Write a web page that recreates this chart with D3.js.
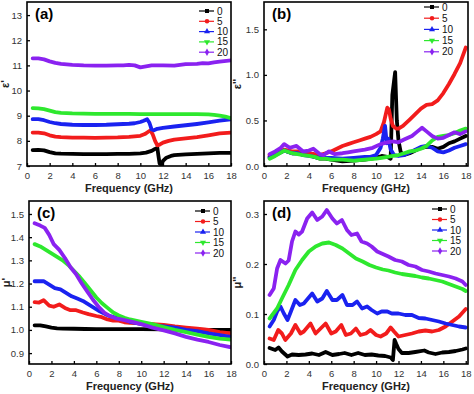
<html lang="en">
<head>
    <meta charset="utf-8">
    <title>Permittivity and permeability spectra</title>
    <script src="https://cdn.jsdelivr.net/npm/d3@7/dist/d3.min.js"></script>
    <style>
        body { margin: 0; background: #fff; }
        text { font-family: "Liberation Sans", Arial, sans-serif; }
    </style>
</head>
<body></body>
<script type="text/javascript">

    //****************************************************************************************************************************//
    //	Data (frequency in GHz, value)

    const loadings = ["0", "5", "10", "15", "20"];
    const seriesColors = ["#000000", "#f21c1c", "#1a22f0", "#2ee82e", "#8a22f0"];
    const freqTicks = [0, 2, 4, 6, 8, 10, 12, 14, 16, 18];

    // (a) real permittivity
    const epsRe0 = [[0.5,7.63],[1,7.64],[1.5,7.62],[2,7.55],[2.5,7.5],[3,7.49],[4,7.48],[5,7.47],[6,7.47],[7,7.47],[8,7.48],[9,7.48],[10,7.5],[10.5,7.53],[11,7.6],[11.3,7.68],[11.5,7.72],[11.6,7.4],[11.7,7.1],[11.85,7.05],[12,7.2],[12.3,7.33],[12.7,7.4],[13,7.43],[14,7.46],[15,7.48],[16,7.5],[17,7.52],[18,7.52]];
    const epsRe5 = [[0.5,8.33],[1,8.33],[1.5,8.3],[2,8.22],[2.5,8.17],[3,8.15],[4,8.13],[5,8.13],[6,8.12],[7,8.13],[8,8.14],[9,8.16],[10,8.2],[10.4,8.27],[10.7,8.36],[10.9,8.42],[11.1,8.25],[11.3,8.0],[11.5,7.82],[11.7,7.85],[12,7.93],[12.5,8.0],[13,8.05],[14,8.1],[15,8.15],[16,8.22],[17,8.3],[18,8.33]];
    const epsRe10 = [[0.5,8.86],[1,8.86],[1.5,8.82],[2,8.75],[2.5,8.7],[3,8.67],[4,8.64],[5,8.63],[6,8.63],[7,8.64],[8,8.66],[9,8.68],[9.5,8.7],[10,8.75],[10.3,8.8],[10.6,8.86],[10.8,8.72],[11,8.45],[11.2,8.42],[11.5,8.48],[12,8.52],[13,8.57],[14,8.62],[15,8.67],[16,8.73],[17,8.8],[18,8.86]];
    const epsRe15 = [[0.5,9.3],[1,9.29],[1.5,9.26],[2,9.2],[2.5,9.14],[3,9.11],[4,9.09],[5,9.08],[6,9.07],[7,9.07],[8,9.07],[9,9.07],[10,9.06],[11,9.06],[12,9.06],[13,9.06],[14,9.06],[15,9.06],[16,9.05],[16.5,9.03],[17,9.0],[17.5,8.96],[18,8.9]];
    const epsRe20 = [[0.5,11.28],[1,11.28],[1.5,11.24],[2,11.16],[2.5,11.1],[3,11.06],[3.5,11.04],[4,11.02],[5,11.0],[6,10.99],[7,10.99],[8,11.0],[8.5,11.0],[9,11.02],[9.5,11.0],[10,10.92],[10.5,10.96],[11,11.0],[12,11.0],[13,10.99],[13.5,11.02],[14,11.05],[15,11.06],[15.5,11.09],[16,11.08],[16.5,11.12],[17,11.15],[18,11.2]];

    // (b) imaginary permittivity
    const epsIm0 = [[0.5,0.1],[1,0.12],[1.8,0.17],[2.5,0.14],[3,0.14],[3.5,0.12],[4,0.12],[4.5,0.1],[5,0.08],[5.5,0.08],[6,0.07],[7,0.05],[8,0.06],[9,0.07],[10,0.09],[10.5,0.11],[11,0.1],[11.3,0.08],[11.45,0.78],[11.6,0.93],[11.7,1.03],[11.85,0.5],[12,0.28],[12.2,0.15],[12.5,0.12],[13,0.14],[13.5,0.17],[14,0.2],[14.5,0.21],[15,0.21],[15.5,0.19],[16,0.21],[16.5,0.25],[17,0.27],[17.5,0.3],[18,0.33]];
    const epsIm5 = [[0.5,0.12],[1,0.14],[1.8,0.18],[2.5,0.16],[3,0.16],[3.5,0.14],[4,0.14],[4.5,0.13],[5,0.12],[5.5,0.14],[6,0.16],[6.5,0.19],[7,0.22],[7.5,0.24],[8,0.26],[8.5,0.28],[9,0.3],[9.5,0.32],[10,0.35],[10.4,0.38],[10.7,0.48],[11.0,0.64],[11.15,0.62],[11.3,0.52],[11.5,0.44],[11.8,0.41],[12,0.41],[12.4,0.44],[13,0.51],[13.5,0.57],[14,0.63],[14.5,0.67],[15,0.68],[15.5,0.72],[16,0.8],[16.5,0.9],[17,1.01],[17.5,1.13],[18,1.3]];
    const epsIm10 = [[0.5,0.09],[1,0.12],[1.8,0.17],[2.5,0.14],[3,0.14],[3.5,0.12],[4,0.11],[4.5,0.1],[5,0.09],[5.5,0.09],[6,0.09],[7,0.08],[8,0.09],[9,0.1],[9.5,0.1],[10,0.12],[10.4,0.2],[10.6,0.3],[10.8,0.44],[10.95,0.25],[11.1,0.3],[11.3,0.18],[11.6,0.12],[12,0.11],[12.5,0.12],[13,0.15],[13.5,0.18],[14,0.21],[14.5,0.22],[15,0.2],[15.5,0.16],[16,0.15],[16.5,0.17],[17,0.2],[17.5,0.22],[18,0.24]];
    const epsIm15 = [[0.5,0.08],[1,0.11],[1.8,0.17],[2.5,0.14],[3,0.13],[3.5,0.12],[4,0.11],[4.5,0.1],[5,0.08],[5.5,0.08],[6,0.07],[7,0.07],[8,0.06],[9,0.07],[10,0.08],[10.5,0.09],[11,0.1],[11.5,0.11],[12,0.12],[12.5,0.14],[13,0.16],[13.5,0.17],[14,0.19],[14.5,0.22],[15,0.28],[15.5,0.32],[16,0.33],[16.5,0.34],[17,0.36],[17.5,0.39],[18,0.41]];
    const epsIm20 = [[0.5,0.13],[1,0.16],[1.5,0.2],[1.8,0.24],[2.3,0.2],[2.9,0.22],[3.5,0.16],[4,0.17],[4.4,0.19],[5,0.13],[5.3,0.12],[5.8,0.16],[6.3,0.13],[7,0.14],[7.5,0.15],[8,0.16],[9,0.18],[9.7,0.2],[10.4,0.24],[11,0.26],[11.5,0.27],[12,0.26],[12.5,0.29],[13.2,0.33],[13.7,0.38],[14.1,0.42],[14.5,0.38],[15,0.33],[15.5,0.3],[16,0.31],[16.5,0.34],[17,0.37],[17.5,0.35],[18,0.38]];

    // (c) real permeability
    const muRe0 = [[0.5,1.02],[1,1.02],[1.5,1.015],[2,1.01],[2.5,1.007],[3,1.006],[4,1.005],[5,1.004],[6,1.003],[8,1.003],[10,1.003],[12,1.002],[14,1.001],[16,1.0],[18,1.0]];
    const muRe5 = [[0.5,1.12],[0.9,1.118],[1.3,1.128],[1.8,1.105],[2.2,1.1],[2.7,1.11],[3.2,1.095],[3.7,1.085],[4.2,1.085],[4.8,1.075],[5.3,1.068],[6,1.06],[6.5,1.055],[7,1.045],[7.5,1.04],[8,1.04],[8.5,1.033],[9,1.03],[10,1.028],[11,1.025],[12,1.022],[13,1.015],[14,1.01],[15,1.005],[16,1.0],[17,0.99],[18,0.985]];
    const muRe10 = [[0.5,1.21],[1.3,1.21],[1.8,1.195],[2.3,1.18],[2.8,1.175],[3.3,1.16],[3.8,1.145],[4.3,1.135],[4.8,1.125],[5.3,1.11],[5.8,1.095],[6.3,1.08],[6.8,1.068],[7.3,1.058],[8,1.05],[8.5,1.045],[9,1.035],[9.5,1.03],[10,1.025],[11,1.02],[12,1.015],[13,1.01],[14,1.0],[15,0.995],[16,0.985],[17,0.978],[18,0.97]];
    const muRe15 = [[0.5,1.37],[1,1.36],[1.5,1.345],[2,1.33],[2.5,1.315],[3,1.3],[3.5,1.28],[4,1.255],[4.5,1.23],[5,1.2],[5.5,1.17],[6,1.14],[6.5,1.115],[7,1.095],[7.5,1.075],[8,1.062],[8.5,1.052],[9,1.045],[10,1.035],[11,1.025],[12,1.012],[13,1.0],[14,0.99],[15,0.98],[16,0.97],[17,0.962],[18,0.958]];
    const muRe20 = [[0.5,1.46],[1,1.45],[1.4,1.44],[1.8,1.41],[2.2,1.37],[2.7,1.345],[3.2,1.31],[3.7,1.27],[4.2,1.24],[4.7,1.2],[5.2,1.165],[5.7,1.13],[6.2,1.1],[6.7,1.075],[7.2,1.06],[7.7,1.05],[8.2,1.045],[8.7,1.04],[9.2,1.035],[10,1.025],[11,1.01],[12,0.998],[13,0.985],[14,0.97],[15,0.958],[16,0.948],[17,0.935],[18,0.925]];

    // (d) imaginary permeability
    const muIm0 = [[0.5,0.032],[1.0,0.028],[1.3,0.033],[1.6,0.025],[2.1,0.015],[2.5,0.019],[3.1,0.018],[3.7,0.019],[4.3,0.021],[4.9,0.018],[5.5,0.024],[6.1,0.018],[6.7,0.02],[7.2,0.022],[7.8,0.018],[8.4,0.022],[9.0,0.018],[9.6,0.019],[10.2,0.017],[10.8,0.016],[11.3,0.013],[11.5,0.008],[11.65,0.048],[11.8,0.04],[12.0,0.03],[12.3,0.022],[12.9,0.022],[13.5,0.024],[14.3,0.027],[14.7,0.023],[15.3,0.02],[15.9,0.023],[16.5,0.024],[17.1,0.026],[17.7,0.029],[18,0.031]];
    const muIm5 = [[0.5,0.051],[0.87,0.048],[1.27,0.068],[1.6,0.061],[1.9,0.048],[2.4,0.061],[2.8,0.078],[3.25,0.061],[3.55,0.065],[4.15,0.081],[4.6,0.061],[5.05,0.071],[5.5,0.081],[6.0,0.061],[6.4,0.065],[6.9,0.078],[7.3,0.058],[7.75,0.061],[8.2,0.071],[8.6,0.058],[9.1,0.061],[9.5,0.068],[10.0,0.058],[10.4,0.055],[10.9,0.061],[11.3,0.073],[11.6,0.065],[12.0,0.055],[12.6,0.058],[13.2,0.061],[13.8,0.065],[14.4,0.067],[15.0,0.065],[15.6,0.068],[16.2,0.075],[16.8,0.085],[17.4,0.095],[18,0.11]];
    const muIm10 = [[0.5,0.075],[0.87,0.088],[1.17,0.105],[1.47,0.115],[1.77,0.101],[2.1,0.088],[2.4,0.105],[2.8,0.128],[3.2,0.118],[3.55,0.121],[4.3,0.141],[4.75,0.125],[5.2,0.131],[5.6,0.146],[6.1,0.128],[6.5,0.128],[7.0,0.138],[7.4,0.118],[7.9,0.118],[8.3,0.125],[8.75,0.111],[9.2,0.115],[9.6,0.108],[10.1,0.101],[10.5,0.105],[11.0,0.105],[11.4,0.101],[12.0,0.101],[12.6,0.098],[13.2,0.098],[13.8,0.092],[14.4,0.091],[15.0,0.088],[15.6,0.085],[16.2,0.081],[16.8,0.078],[17.4,0.075],[18,0.073]];
    const muIm15 = [[0.5,0.091],[1.17,0.111],[1.6,0.131],[2.2,0.158],[2.8,0.188],[3.4,0.208],[4.0,0.225],[4.6,0.235],[5.2,0.241],[5.8,0.243],[6.4,0.238],[7.0,0.231],[7.6,0.221],[8.2,0.211],[8.8,0.205],[9.4,0.198],[10.0,0.193],[10.6,0.189],[11.1,0.187],[11.7,0.183],[12.3,0.18],[12.9,0.178],[13.5,0.176],[14.1,0.173],[14.7,0.171],[15.3,0.168],[15.9,0.165],[16.5,0.16],[17.1,0.155],[17.7,0.15],[18,0.146]];
    const muIm20 = [[0.5,0.138],[0.87,0.151],[1.17,0.191],[1.47,0.208],[1.92,0.201],[2.2,0.207],[2.5,0.245],[2.8,0.265],[3.1,0.259],[3.4,0.265],[3.85,0.291],[4.3,0.303],[4.75,0.288],[5.2,0.295],[5.6,0.308],[6.1,0.291],[6.5,0.281],[6.95,0.288],[7.4,0.268],[7.8,0.258],[8.3,0.261],[8.7,0.245],[9.2,0.241],[9.6,0.235],[10.1,0.225],[10.5,0.221],[11.1,0.215],[11.7,0.208],[12.3,0.205],[12.9,0.198],[13.5,0.195],[14.1,0.188],[14.7,0.185],[15.3,0.181],[15.9,0.178],[16.5,0.175],[17.1,0.171],[17.7,0.165],[18,0.158]];

    //****************************************************************************************************************************//
    //	Panels

    const svg = d3.select("body")
        .append("svg")
        .attr("width", 474)
        .attr("height", 394);

    const markerShapes = [d3.symbolSquare, d3.symbolCircle, d3.symbolTriangle, d3.symbolTriangle, d3.symbolDiamond];
    const markerRotate = [0, 0, 0, 180, 0];

    const panels = [
        {tag: "(a)", yTitle: "ε'", series: [epsRe0, epsRe5, epsRe10, epsRe15, epsRe20],
            left: 27, right: 231, top: 2, bottom: 166, xMax: 18, yDomain: [7, 13.52],
            yTicks: [7, 8, 9, 10, 11, 12, 13], yFmt: d3.format("d"), legend: [199, 11, 10.3], titleDx: 18},
        {tag: "(b)", yTitle: "ε''", series: [epsIm0, epsIm5, epsIm10, epsIm15, epsIm20],
            left: 264, right: 468, top: 2, bottom: 166, xMax: 18.2, yDomain: [0, 1.8],
            yTicks: [0, 0.5, 1.0, 1.5], yFmt: d3.format(".1f"), legend: [424, 7, 11.2], titleDx: 23},
        {tag: "(c)", yTitle: "μ'", series: [muRe0, muRe5, muRe10, muRe15, muRe20],
            left: 29, right: 231, top: 201, bottom: 364, xMax: 18, yDomain: [0.853, 1.556],
            yTicks: [0.9, 1.0, 1.1, 1.2, 1.3, 1.4, 1.5], yFmt: d3.format(".1f"), legend: [195, 211, 10.5], titleDx: 19},
        {tag: "(d)", yTitle: "μ''", series: [muIm0, muIm5, muIm10, muIm15, muIm20],
            left: 264, right: 468, top: 201, bottom: 364, xMax: 18.2, yDomain: [0, 0.326],
            yTicks: [0, 0.1, 0.2, 0.3], yFmt: d3.format(".1f"), legend: [432, 209, 10.5], titleDx: 23}
    ];

    panels.forEach(p => {
        const x = d3.scaleLinear().domain([0, p.xMax]).range([p.left, p.right]);
        const y = d3.scaleLinear().domain(p.yDomain).range([p.bottom, p.top]);
        const g = svg.append("g");

        // axes, ticks pointing inward
        const xAxis = g.append("g")
            .attr("transform", `translate(0,${p.bottom})`)
            .call(d3.axisBottom(x).tickValues(freqTicks).tickSize(-3).tickPadding(6));
        const yAxis = g.append("g")
            .attr("transform", `translate(${p.left},0)`)
            .call(d3.axisLeft(y).tickValues(p.yTicks).tickFormat(p.yFmt).tickSize(-3).tickPadding(5));

        [xAxis, yAxis].forEach(a => {
            a.select(".domain").remove();
            a.selectAll("line").attr("stroke", "#000").attr("stroke-width", 1.3);
            a.selectAll("text")
                .style("font-family", "'Liberation Sans', Arial, sans-serif")
                .style("font-size", "9.5px")
                .attr("fill", "#333");
        });

        // curves
        const line = d3.line().x(d => x(d[0])).y(d => y(d[1]));
        const clipId = "clip" + p.tag.replace(/\W/g, "");
        g.append("clipPath").attr("id", clipId)
            .append("rect")
            .attr("x", p.left).attr("y", p.top)
            .attr("width", p.right - p.left).attr("height", p.bottom - p.top);

        p.series.forEach((s, i) => {
            g.append("path")
                .datum(s)
                .attr("clip-path", `url(#${clipId})`)
                .attr("d", line)
                .attr("fill", "none")
                .attr("stroke", seriesColors[i])
                .attr("stroke-width", 3.8)
                .attr("stroke-linejoin", "round")
                .attr("stroke-linecap", "round");
        });

        // frame
        g.append("rect")
            .attr("x", p.left).attr("y", p.top)
            .attr("width", p.right - p.left).attr("height", p.bottom - p.top)
            .attr("fill", "none")
            .attr("stroke", "#000")
            .attr("stroke-width", 1.6);

        // legend
        const [lx, ly, step] = p.legend;
        loadings.forEach((name, i) => {
            const yy = ly + i * step;
            g.append("line")
                .attr("x1", lx).attr("x2", lx + 15)
                .attr("y1", yy).attr("y2", yy)
                .attr("stroke", seriesColors[i])
                .attr("stroke-width", 1.2);
            g.append("path")
                .attr("d", d3.symbol().type(markerShapes[i]).size(16)())
                .attr("transform", `translate(${lx + 8},${yy}) rotate(${markerRotate[i]})`)
                .attr("fill", seriesColors[i]);
            g.append("text")
                .attr("x", lx + 18).attr("y", yy + 3.5)
                .style("font-size", "10px")
                .attr("fill", "#111")
                .text(name);
        });

        // labels
        g.append("text")
            .attr("x", p.left + 8).attr("y", p.top + 17)
            .style("font-size", "15px")
            .style("font-weight", "bold")
            .text(p.tag);

        g.append("text")
            .attr("x", (p.left + p.right) / 2).attr("y", p.bottom + 26)
            .attr("text-anchor", "middle")
            .style("font-size", "11px")
            .style("font-weight", "bold")
            .attr("fill", "#222")
            .text("Frequency (GHz)");

        g.append("text")
            .attr("transform", `translate(${p.left - p.titleDx},${(p.top + p.bottom) / 2}) rotate(-90)`)
            .attr("text-anchor", "middle")
            .style("font-size", "11px")
            .style("font-weight", "bold")
            .attr("fill", "#222")
            .text(p.yTitle);
    });

</script>
</html>
